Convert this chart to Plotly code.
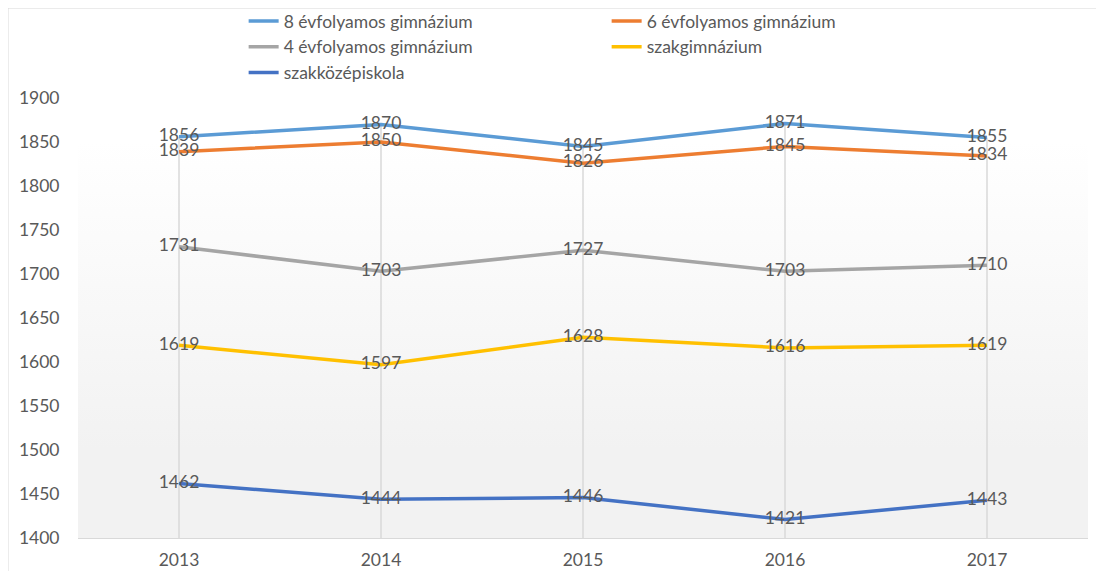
import base64
import plotly.graph_objects as go

years = ["2013", "2014", "2015", "2016", "2017"]
s8 = [1856, 1870, 1845, 1871, 1855]
s6 = [1839, 1850, 1826, 1845, 1834]
s4 = [1731, 1703, 1727, 1703, 1710]
szakgimn = [1619, 1597, 1628, 1616, 1619]
szakkozep = [1462, 1444, 1446, 1421, 1443]

names = ["8 évfolyamos gimnázium", "6 évfolyamos gimnázium", "4 évfolyamos gimnázium",
         "szakgimnázium", "szakközépiskola"]
colors = ["#5B9BD5", "#ED7D31", "#A5A5A5", "#FFC000", "#4472C4"]
series = [s8, s6, s4, szakgimn, szakkozep]

Y_MIN, Y_MAX = 1400, 1900

FONT = "Lato"
TXT = "#595959"
FS = 17.5
LFS = 17.5

fig = go.Figure()

# Drop lines (Excel-style): from the highest point of each category down to the axis
dx, dy = [], []
for i, yr in enumerate(years):
    top = max(s[i] for s in series)
    dx += [yr, yr, None]
    dy += [top, Y_MIN, None]
fig.add_trace(go.Scatter(x=dx, y=dy, mode="lines", line=dict(color="#d9d9d9", width=1.5),
                         showlegend=False, hoverinfo="skip", cliponaxis=False))

for name, col, vals in zip(names, colors, series):
    fig.add_trace(go.Scatter(
        x=years, y=vals, name=name, mode="lines+text",
        line=dict(color=col, width=3.5),
        text=[str(v) for v in vals], textposition="middle center",
        textfont=dict(family=FONT, size=FS, color=TXT),
        cliponaxis=False,
    ))

svg = ('<svg xmlns="http://www.w3.org/2000/svg" width="100" height="100" preserveAspectRatio="none">'
       '<defs><linearGradient id="g" x1="0" y1="0" x2="0" y2="1">'
       '<stop offset="0" stop-color="#ffffff"/><stop offset="0.1" stop-color="#ffffff"/>'
       '<stop offset="0.8" stop-color="#f2f2f2"/><stop offset="1" stop-color="#f2f2f2"/></linearGradient></defs>'
       '<rect width="100" height="100" fill="url(#g)"/></svg>')
src = "data:image/svg+xml;base64," + base64.b64encode(svg.encode()).decode()

fig.update_layout(
    width=1096, height=563,
    margin=dict(l=70, r=16, t=90, b=33, autoexpand=False),
    paper_bgcolor="white", plot_bgcolor="rgba(0,0,0,0)",
    font=dict(family=FONT, size=FS, color=TXT),
    images=[dict(source=src, xref="paper", yref="paper", x=0, y=1, sizex=1, sizey=1,
                 sizing="stretch", layer="below", xanchor="left", yanchor="top")],
    legend=dict(orientation="h", x=0.164, xanchor="left", y=1.2159, yref="paper", yanchor="top",
                entrywidth=318, entrywidthmode="pixels", traceorder="normal",
                font=dict(family=FONT, size=LFS, color=TXT), bgcolor="rgba(0,0,0,0)",
                tracegroupgap=0),
    xaxis=dict(type="category", range=[-0.5, 4.5], showgrid=False,
               showline=True, linecolor="#d9d9d9", linewidth=1,
               ticks="outside", ticklen=6, tickcolor="rgba(0,0,0,0)",
               tickfont=dict(family=FONT, size=FS, color=TXT), zeroline=False),
    yaxis=dict(range=[Y_MIN, Y_MAX], dtick=50, showgrid=False, showline=False, zeroline=False,
               ticks="outside", ticklen=14, tickcolor="rgba(0,0,0,0)",
               tickfont=dict(family=FONT, size=FS, color=TXT)),
    shapes=[dict(type="rect", xref="paper", yref="paper", x0=-0.0693, x1=1.1, y0=-0.2, y1=1.2045,
                 line=dict(color="#d9d9d9", width=1), fillcolor="rgba(0,0,0,0)", layer="below")],
)

fig.write_html("out.html")
